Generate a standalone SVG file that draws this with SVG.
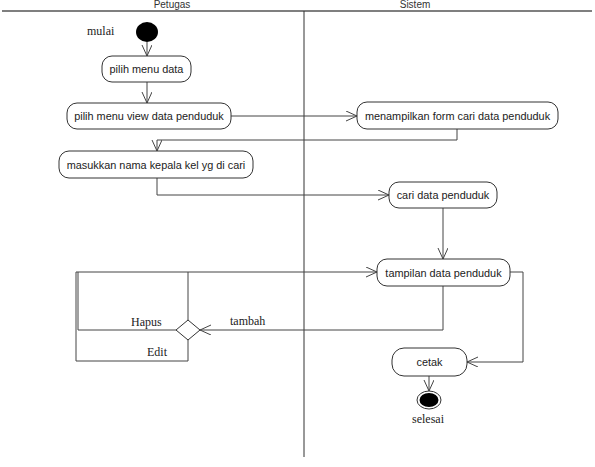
<svg xmlns="http://www.w3.org/2000/svg" width="595" height="467" viewBox="0 0 595 467">
<defs>
<style>
.act rect{fill:#fff;stroke:#333;stroke-width:1}
.act text{font-family:"Liberation Sans",Arial,sans-serif;font-size:10.9px;fill:#222;text-anchor:middle}
.lbl{font-family:"Liberation Serif","Times New Roman",serif;font-size:12px;fill:#222}
.hdr{font-family:"Liberation Sans",Arial,sans-serif;font-size:10px;fill:#333;text-anchor:middle}
.c{fill:none;stroke:#444;stroke-width:1}
</style>
<marker id="arr" markerUnits="userSpaceOnUse" markerWidth="14" markerHeight="12" refX="11" refY="5" orient="auto">
<path d="M0,0 L11,5 L0,10" fill="none" stroke="#444" stroke-width="1"/>
</marker>
</defs>
<rect width="595" height="467" fill="#fff"/>
<g id="swimlanes">
<line x1="2" y1="11" x2="592" y2="11" stroke="#555" stroke-width="1.5"/>
<line x1="304" y1="11" x2="304" y2="457" stroke="#333" stroke-width="1"/>
<text class="hdr" x="172" y="8">Petugas</text>
<text class="hdr" x="415" y="8">Sistem</text>
</g>
<g id="connectors">
<line class="c" x1="147" y1="42" x2="147" y2="56" marker-end="url(#arr)"/>
<line class="c" x1="147" y1="82" x2="147" y2="103" marker-end="url(#arr)"/>
<line class="c" x1="231" y1="116" x2="357" y2="116" marker-end="url(#arr)"/>
<polyline class="c" points="457,129 457,140 157,140 157,151" marker-end="url(#arr)"/>
<polyline class="c" points="157,178 157,195 389,195" marker-end="url(#arr)"/>
<line class="c" x1="443" y1="208" x2="443" y2="259" marker-end="url(#arr)"/>
<polyline class="c" points="510,272 523,272 523,362 467,362" marker-end="url(#arr)"/>
<polyline class="c" points="443,286 443,330 200,330" marker-end="url(#arr)"/>
<polyline class="c" points="188,320 188,272"/>
<polyline class="c" points="176,330 78,330 78,272"/>
<polyline class="c" points="188,340 188,361 76,361 76,272 377,272" marker-end="url(#arr)"/>
<line class="c" x1="429" y1="376" x2="429" y2="391" marker-end="url(#arr)"/>
<text class="lbl" x="230" y="325">tambah</text>
<text class="lbl" x="131" y="326">Hapus</text>
<text class="lbl" x="147" y="356">Edit</text>
</g>
<g id="start">
<ellipse cx="147" cy="32" rx="11" ry="10" fill="#000"/>
<text class="lbl" x="87" y="35">mulai</text>
</g>
<g id="pilih_menu_data" class="act">
<rect x="102" y="56" width="89" height="26" rx="10"/>
<text x="146.5" y="73">pilih menu data</text>
</g>
<g id="pilih_menu_view" class="act">
<rect x="67" y="103" width="164" height="26" rx="10"/>
<text x="149" y="120">pilih menu view data penduduk</text>
</g>
<g id="menampilkan_form" class="act">
<rect x="357" y="102" width="201" height="27" rx="10"/>
<text x="457.5" y="119.5">menampilkan form cari data penduduk</text>
</g>
<g id="masukkan_nama" class="act">
<rect x="59" y="151" width="194" height="27" rx="10"/>
<text x="156" y="168.5">masukkan nama kepala kel yg di cari</text>
</g>
<g id="cari_data" class="act">
<rect x="389" y="182" width="108" height="26" rx="10"/>
<text x="443" y="199">cari data penduduk</text>
</g>
<g id="tampilan_data" class="act">
<rect x="377" y="259" width="133" height="27" rx="10"/>
<text x="443.5" y="276.5">tampilan data penduduk</text>
</g>
<g id="decision">
<polygon points="188,320 200,330 188,340 176,330" fill="#fff" stroke="#333" stroke-width="1"/>
</g>
<g id="cetak" class="act">
<rect x="392" y="348" width="75" height="28" rx="12"/>
<text x="429.5" y="366">cetak</text>
</g>
<g id="end">
<ellipse cx="429" cy="400" rx="12" ry="9" fill="#fff" stroke="#333" stroke-width="1"/>
<ellipse cx="429" cy="400" rx="9.5" ry="7" fill="#000"/>
<text class="lbl" x="412" y="423">selesai</text>
</g>
</svg>
